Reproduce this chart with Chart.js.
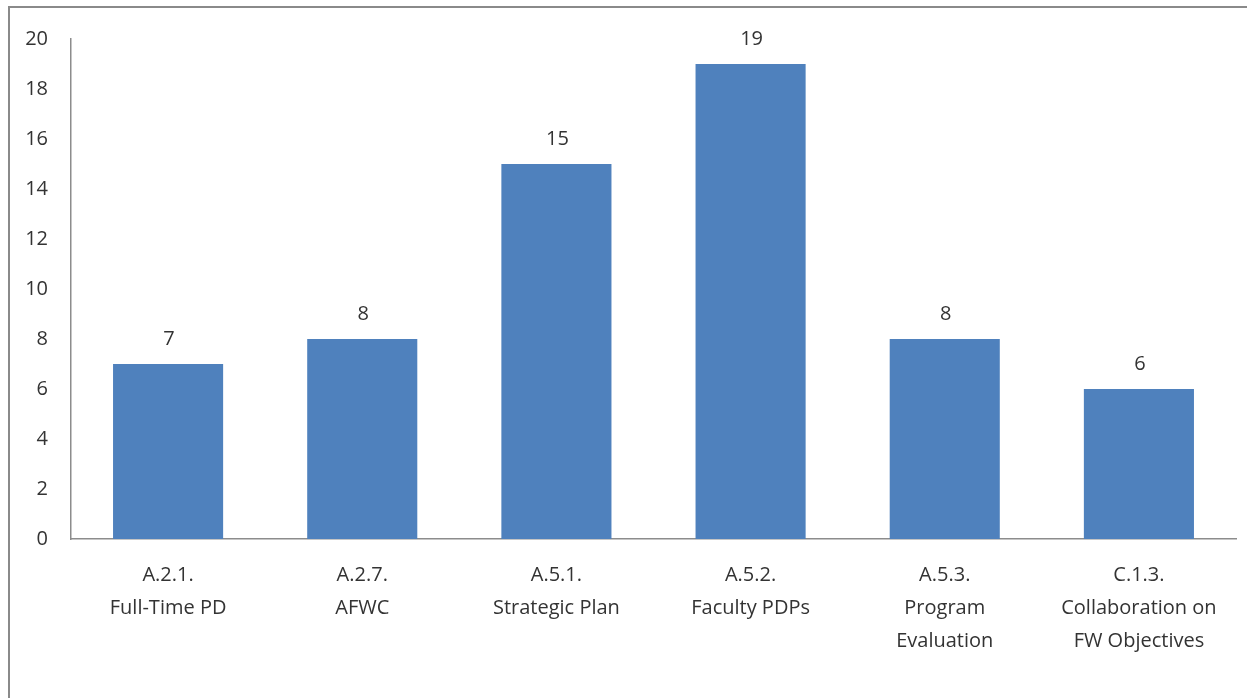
<!DOCTYPE html>
<html>
<head>
<meta charset="utf-8">
<script src="https://cdn.jsdelivr.net/npm/chart.js@4"></script>
<style>
    html, body { margin: 0; padding: 0; background: #fff; overflow: hidden; }
    #frame {
        position: absolute;
        left: 8px;
        top: 6px;
        width: 1239px;
        height: 692px;
        border-left: 2px solid #8a8a8a;
        border-top: 2px solid #8a8a8a;
        box-sizing: border-box;
    }
    #wrap { position: absolute; left: 0; top: 0; width: 1237px; height: 690px; }
</style>
</head>
<body>
<div id="frame">
    <div id="wrap"><canvas id="chart"></canvas></div>
</div>
<script>
const categories = [
    ["A.2.1.", "Full-Time PD"],
    ["A.2.7.", "AFWC"],
    ["A.5.1.", "Strategic Plan"],
    ["A.5.2.", "Faculty PDPs"],
    ["A.5.3.", "Program", "Evaluation"],
    ["C.1.3.", "Collaboration on", "FW Objectives"]
];
const values = [7, 8, 15, 19, 8, 6];
const yTicks = [0, 2, 4, 6, 8, 10, 12, 14, 16, 18, 20];

const fontFamily = "'Open Sans', Lato, sans-serif";
const textColor = "#333333";
const axisColor = "#8c8c8c";

// etichette sopra le barre
const valueLabels = {
    id: "valueLabels",
    afterDatasetsDraw(chart) {
        const ctx = chart.ctx;
        const meta = chart.getDatasetMeta(0);
        ctx.save();
        ctx.font = "20px " + fontFamily;
        ctx.fillStyle = textColor;
        ctx.textAlign = "center";
        ctx.textBaseline = "middle";
        meta.data.forEach((bar, i) => {
            ctx.fillText(String(values[i]), bar.x + 1, bar.y - 25);
        });
        ctx.restore();
    }
};

new Chart(document.getElementById("chart").getContext("2d"), {
    type: "bar",
    data: {
        labels: categories,
        datasets: [
            {
                data: values,
                backgroundColor: "#4f81bd",
                barPercentage: 0.567,
                categoryPercentage: 1
            }
        ]
    },
    options: {
        responsive: true,
        maintainAspectRatio: false,
        animation: false,
        layout: { padding: { top: 0, right: 11, left: 0, bottom: 0 } },
        plugins: {
            legend: { display: false },
            tooltip: { enabled: false }
        },
        scales: {
            x: {
                grid: { display: false, drawTicks: false },
                border: { display: true, color: axisColor, width: 1.5 },
                ticks: {
                    color: textColor,
                    font: { family: fontFamily, size: 20, lineHeight: 1.65 },
                    padding: 20,
                    maxRotation: 0,
                    autoSkip: false
                },
                afterFit(scale) { scale.height = 159; }
            },
            y: {
                min: 0,
                max: 20,
                afterBuildTicks(scale) { scale.ticks = yTicks.map(v => ({ value: v })); },
                grid: { display: false, drawTicks: false },
                border: { display: true, color: axisColor, width: 1.5 },
                ticks: {
                    color: textColor,
                    font: { family: fontFamily, size: 20, lineHeight: 0.8 },
                    padding: 23
                },
                afterFit(scale) { scale.width = 61; }
            }
        }
    },
    plugins: [valueLabels]
});
</script>
</body>
</html>
